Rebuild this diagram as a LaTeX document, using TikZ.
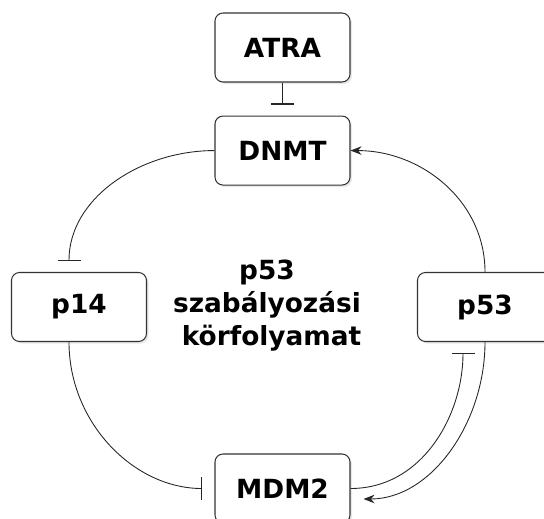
\documentclass[tikz,border=0pt]{standalone}
\usepackage{fontspec}
\setmainfont{DejaVu Sans}
\usetikzlibrary{positioning,arrows.meta,shadows}

\tikzset{
  gene/.style={draw=black!80, line width=0.6pt, fill=white, rounded corners=0.16cm,
    minimum width=2.7cm, minimum height=1.38cm, font=\fontsize{15}{18.8}\selectfont\bfseries,
    drop shadow={opacity=0.18, shadow xshift=0.04cm, shadow yshift=-0.04cm}},
  link/.style={draw=black!85, line width=0.5pt},
  inhib/.style={link, -{Bar[width=0.46cm, line width=0.6pt]}},
  activ/.style={link, -{Stealth[length=0.22cm, width=0.17cm]}}
}

\begin{document}
\begin{tikzpicture}
  \useasboundingbox (0,0) rectangle (10.88,-10.36);

  \node [gene] (atra) at (5.65,-0.95) {ATRA};
  \node [gene, below=0.66cm of atra] (dnmt) {DNMT};
  \node [gene] (p14) at (1.58,-6.14) {p14};
  \node [gene] (p53) at (9.70,-6.14) {p53};
  \node [gene] (mdm2) at (5.65,-9.77) {MDM2};

  \node [align=center, font=\fontsize{15}{18.8}\selectfont\bfseries] (cycle) at (5.34,-6.12)
    {p53\\szabályozási\\~körfolyamat};

  \draw [inhib, shorten >=0.22cm] (atra) -- (dnmt);
  \draw [inhib, shorten >=0.22cm] (dnmt.west) to [out=180,in=90] ([xshift=-0.2cm]p14.north);
  \draw [inhib, shorten >=0.24cm] ([xshift=-0.2cm]p14.south) to [out=-90,in=180] (mdm2.west);
  \draw [activ] (p53.north) to [out=90,in=0] (dnmt.east);
  \draw [activ, shorten >=0.26cm] (p53.south) to [out=-90,in=0] ([yshift=-0.21cm]mdm2.east);
  \draw [inhib, shorten >=0.22cm] (mdm2.east) to [out=0,in=-90] ([xshift=-0.44cm]p53.south);

\end{tikzpicture}
\end{document}
